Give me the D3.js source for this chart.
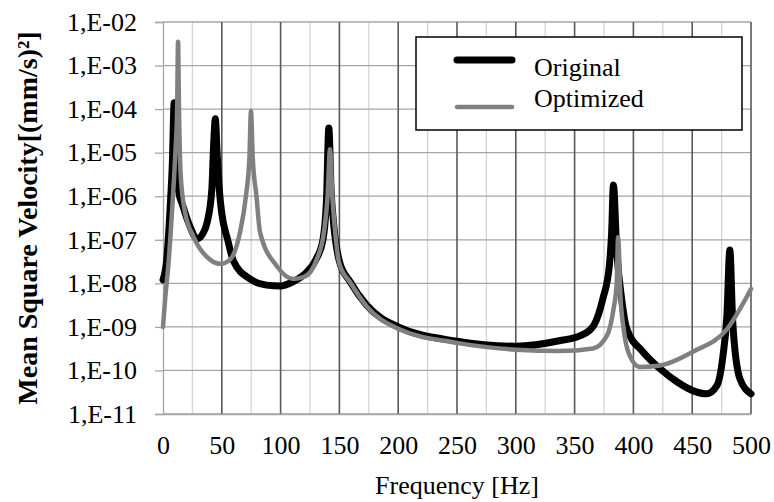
<!DOCTYPE html>
<html>
<head>
<meta charset="utf-8">
<script src="https://cdn.jsdelivr.net/npm/d3@7"></script>
<style>
    body { margin: 0; background: #fff; }
    #chart-container { width: 774px; height: 502px; }
    text { font-family: "Liberation Serif", "Times New Roman", serif; fill: #000; }
</style>
</head>
<body>
<div id="chart-container"></div>
<script>
// Original response
const origFreq = [0, 3, 6, 8, 9.5, 11, 13, 17, 23, 29, 34, 37.5, 41.5, 43, 44.5, 46, 48, 50, 55, 60, 74, 88, 100, 110, 120, 130, 136, 139, 141, 143, 145, 150, 159, 173, 200, 250, 300, 337, 355, 366, 374, 379.5, 381.5, 383, 385.8, 390, 394.5, 408, 422.6, 437, 451, 462, 471, 476, 479.5, 482, 484.5, 490.5, 500];
const origVal = [1.2e-8, 3.2e-8, 5.0e-7, 6.3e-6, 1.4e-4, 1.0e-5, 1.4e-6, 5.9e-7, 2.0e-7, 1.05e-7, 1.4e-7, 2.5e-7, 1.4e-6, 1.4e-5, 6.0e-5, 1.0e-5, 1.3e-6, 4.0e-7, 1.0e-7, 3.2e-8, 1.26e-8, 9.1e-9, 8.7e-9, 1.07e-8, 1.6e-8, 3.5e-8, 1.0e-7, 7.9e-7, 3.7e-5, 1.26e-6, 2.5e-7, 3.2e-8, 1.1e-8, 3.2e-9, 1.0e-9, 4.7e-10, 3.6e-10, 4.8e-10, 6.3e-10, 1.05e-9, 4.4e-9, 2.5e-8, 1.5e-7, 1.8e-6, 6.0e-8, 4.4e-9, 8.9e-10, 2.7e-10, 1.1e-10, 5.5e-11, 3.4e-11, 2.9e-11, 4.5e-11, 2.0e-10, 1.8e-9, 5.8e-8, 1.26e-9, 6.5e-11, 2.9e-11];

// Optimized response
const optFreq = [0, 2, 4.5, 8, 10.5, 12, 12.8, 13.6, 15, 18.7, 25.8, 40, 49, 57, 65.5, 70.5, 73.5, 74.8, 76.3, 79.5, 82.5, 96.7, 110.8, 120, 130.7, 137, 140, 142, 144, 146, 150, 159, 173, 200, 250, 300, 337, 365.6, 377.5, 383, 385.8, 387, 389, 392, 396, 405.6, 422.6, 450.7, 479.6, 500];
const optVal = [1.0e-9, 5.0e-9, 2.5e-8, 6.3e-7, 1.0e-5, 1.0e-4, 3.5e-3, 1.0e-4, 3.2e-6, 4.3e-7, 1.2e-7, 3.5e-8, 2.8e-8, 3.5e-8, 1.5e-7, 1.0e-6, 7.9e-6, 9.1e-5, 7.9e-6, 1.0e-6, 1.5e-7, 2.5e-8, 1.26e-8, 1.4e-8, 3.5e-8, 1.6e-7, 1.0e-6, 1.2e-5, 1.0e-6, 2.0e-7, 2.8e-8, 1.07e-8, 3.0e-9, 9.1e-10, 4.3e-10, 3.0e-10, 2.8e-10, 3.2e-10, 6.3e-10, 2.5e-9, 1.0e-8, 1.15e-7, 5.0e-9, 7.9e-10, 2.5e-10, 1.2e-10, 1.3e-10, 2.7e-10, 8.9e-10, 7.4e-9];

const seriesNames = ["Original", "Optimized"];
const xTicks = [0, 50, 100, 150, 200, 250, 300, 350, 400, 450, 500];
const xMinorTicks = [25, 75, 125, 175, 225, 275, 325, 375, 425, 475];
const yTicks = [1e-2, 1e-3, 1e-4, 1e-5, 1e-6, 1e-7, 1e-8, 1e-9, 1e-10, 1e-11];
const yTickLabels = ["1,E-02", "1,E-03", "1,E-04", "1,E-05", "1,E-06", "1,E-07", "1,E-08", "1,E-09", "1,E-10", "1,E-11"];

class ResponseChart {
    constructor() {
        this.container = d3.select("#chart-container");
        this.margin = {top: 22, right: 23, bottom: 88, left: 163};
        this.init();
        this.render();
    }

    init() {
        const bounds = this.container.node().getBoundingClientRect();
        this.width = bounds.width - this.margin.left - this.margin.right;
        this.height = bounds.height - this.margin.top - this.margin.bottom;

        this.svg = this.container.append("svg")
            .attr("width", bounds.width)
            .attr("height", bounds.height);

        this.g = this.svg.append("g")
            .attr("transform", `translate(${this.margin.left},${this.margin.top})`);

        this.xScale = d3.scaleLinear().domain([0, 500]).range([0, this.width]);
        this.yScale = d3.scaleLog().domain([1e-11, 1e-2]).range([this.height, 0]);
    }

    render() {
        const x = this.xScale, y = this.yScale;

        // grid: minor verticals, horizontals, then major verticals
        this.g.append("g").selectAll("line")
            .data(xMinorTicks).join("line")
            .attr("x1", d => x(d)).attr("x2", d => x(d))
            .attr("y1", 0).attr("y2", this.height)
            .attr("stroke", "#d4d4d4").attr("stroke-width", 1.3);

        this.g.append("g").selectAll("line")
            .data(yTicks).join("line")
            .attr("x1", 0).attr("x2", this.width)
            .attr("y1", d => y(d)).attr("y2", d => y(d))
            .attr("stroke", "#a6a6a6").attr("stroke-width", 1.3);

        this.g.append("g").selectAll("line")
            .data(xTicks.slice(1)).join("line")
            .attr("x1", d => x(d)).attr("x2", d => x(d))
            .attr("y1", 0).attr("y2", this.height)
            .attr("stroke", "#595959").attr("stroke-width", 1.6);

        // axes
        const yAxis = this.g.append("g")
            .call(d3.axisLeft(y).tickValues(yTicks).tickSize(8).tickPadding(18)
                .tickFormat((d, i) => yTickLabels[i]));
        yAxis.select(".domain").attr("stroke", "#a6a6a6").attr("stroke-width", 1.3);
        yAxis.selectAll(".tick line").attr("stroke", "#a6a6a6").attr("stroke-width", 1.3);
        yAxis.selectAll("text")
            .style("font-family", "Liberation Serif")
            .style("font-size", "26px")
            .attr("fill", "#000");

        const xAxis = this.g.append("g")
            .attr("transform", `translate(0,${this.height})`)
            .call(d3.axisBottom(x).tickValues(xTicks).tickSize(0).tickPadding(22));
        xAxis.select(".domain").attr("stroke", "#a6a6a6").attr("stroke-width", 1.3);
        xAxis.selectAll("text")
            .style("font-family", "Liberation Serif")
            .style("font-size", "26px")
            .attr("fill", "#000");

        // axis titles
        this.svg.append("text")
            .attr("x", 457).attr("y", 494)
            .attr("text-anchor", "middle")
            .style("font-size", "26px")
            .text("Frequency [Hz]");

        this.svg.append("text")
            .attr("transform", `translate(37,${this.margin.top + this.height / 2}) rotate(-90)`)
            .attr("text-anchor", "middle")
            .style("font-size", "28px")
            .style("font-weight", "bold")
            .text("Mean Square Velocity[(mm/s)²]");

        // curves
        const line = d3.line()
            .x(d => x(d[0]))
            .y(d => y(d[1]))
            .curve(d3.curveMonotoneX);

        const series = [
            {name: seriesNames[0], pts: d3.zip(origFreq, origVal), color: "#000", width: 7},
            {name: seriesNames[1], pts: d3.zip(optFreq, optVal), color: "#808080", width: 4.5}
        ];

        this.g.selectAll(".curve")
            .data(series).join("path")
            .attr("class", "curve")
            .attr("d", d => line(d.pts))
            .attr("fill", "none")
            .attr("stroke", d => d.color)
            .attr("stroke-width", d => d.width)
            .attr("stroke-linejoin", "round")
            .attr("stroke-linecap", "round");

        // legend
        const legend = this.svg.append("g");
        legend.append("rect")
            .attr("x", 416).attr("y", 37)
            .attr("width", 326).attr("height", 93)
            .attr("fill", "#fff")
            .attr("stroke", "#000")
            .attr("stroke-width", 1.5);

        const rows = [{lineY: 60, textY: 76}, {lineY: 107, textY: 107}];
        series.forEach((s, i) => {
            legend.append("line")
                .attr("x1", 457).attr("x2", 512)
                .attr("y1", rows[i].lineY).attr("y2", rows[i].lineY)
                .attr("stroke", s.color)
                .attr("stroke-width", s.width)
                .attr("stroke-linecap", "round");
            legend.append("text")
                .attr("x", 534).attr("y", rows[i].textY)
                .style("font-size", "26px")
                .text(s.name);
        });
    }
}

new ResponseChart();
</script>
</body>
</html>
